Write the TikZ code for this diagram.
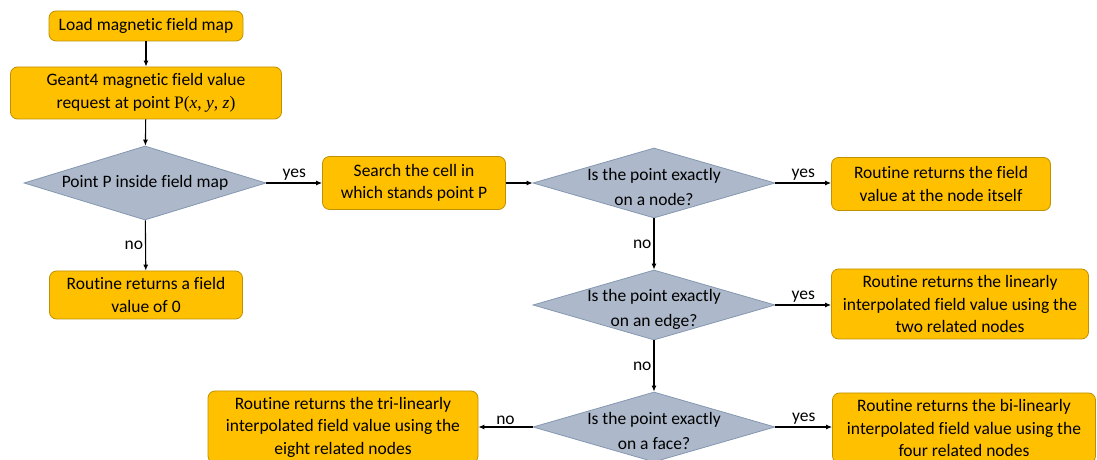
\documentclass[tikz,border=0pt]{standalone}
\usepackage{fontspec}
\setmainfont[Ligatures=NoCommon]{Carlito}
\newfontfamily\mserif{Liberation Serif}
\usetikzlibrary{shapes.geometric,arrows.meta}
\definecolor{boxfill}{HTML}{FFC000}
\definecolor{boxline}{HTML}{BF9000}
\definecolor{diafill}{HTML}{ADB9CA}
\definecolor{dialine}{HTML}{8497B0}
\begin{document}
\begin{tikzpicture}[x=1pt,y=1pt,
  font=\fontsize{17.5}{22.5}\selectfont,
  box/.style={draw=boxline, fill=boxfill, rounded corners=7pt, line width=0.8pt, align=center, inner sep=0pt},
  dia/.style={draw=dialine, fill=diafill, diamond, inner sep=0pt, line width=0.8pt},
  dtext/.style={align=center, inner sep=0pt, font=\fontsize{17.5}{25}\selectfont, yshift=-4pt},
  arr/.style={-{Latex[length=6pt,width=5pt]}, line width=1.1pt},
  lab/.style={inner sep=2pt}
]
\useasboundingbox (0,0) rectangle (1097,460);

\node[box, minimum width=194, minimum height=30] (b1) at (146,434) {Load magnetic field map};
\node[box, minimum width=271, minimum height=52] (b2) at (146,367) {Geant4 magnetic field value\\request at point {\mserif P(\textit{x}, \textit{y}, \textit{z})}};
\node[dia, minimum width=242, minimum height=74] (d1) at (145,277) {};
\node[dtext, yshift=4pt] (d1t) at (d1) {Point P inside field map};
\node[box, minimum width=193, minimum height=48] (b0) at (146,165) {Routine returns a field\\value of 0};
\node[box, minimum width=183, minimum height=53] (s) at (414,277) {Search the cell in\\which stands point P};
\node[dia, minimum width=242, minimum height=70] (d2) at (654,277) {};
\node[dtext] (d2t) at (d2) {Is the point exactly\\on a node?};
\node[box, minimum width=219, minimum height=53] (r1) at (941,276) {Routine returns the field\\value at the node itself};
\node[dia, minimum width=242, minimum height=70] (d3) at (654,155) {};
\node[dtext] (d3t) at (d3) {Is the point exactly\\on an edge?};
\node[box, minimum width=257, minimum height=70] (r2) at (960,156) {Routine returns the linearly\\interpolated field value using the\\two related nodes};
\node[dia, minimum width=242, minimum height=70] (d4) at (654,33) {};
\node[dtext] (d4t) at (d4) {Is the point exactly\\on a face?};
\node[box, minimum width=263, minimum height=70] (r3) at (964,32) {Routine returns the bi-linearly\\interpolated field value using the\\four related nodes};
\node[box, minimum width=270, minimum height=72] (l3) at (343,33) {Routine returns the tri-linearly\\interpolated field value using the\\eight related nodes};

\draw[arr] (b1) -- (b2);
\draw[arr] (b2) -- (d1);
\draw[arr] (d1) -- node[lab, above] {yes} (s);
\draw[arr] (d1) -- node[lab, left] {no} (b0);
\draw[arr] (s) -- (d2);
\draw[arr] (d2.east) -- node[lab, above] {yes} (d2.east -| r1.west);
\draw[arr] (d2) -- node[lab, left] {no} (d3);
\draw[arr] (d3.east) -- node[lab, above] {yes} (d3.east -| r2.west);
\draw[arr] (d3) -- node[lab, left] {no} (d4);
\draw[arr] (d4.east) -- node[lab, above] {yes} (d4.east -| r3.west);
\draw[arr] (d4) -- node[lab, above] {no} (l3);
\end{tikzpicture}
\end{document}
